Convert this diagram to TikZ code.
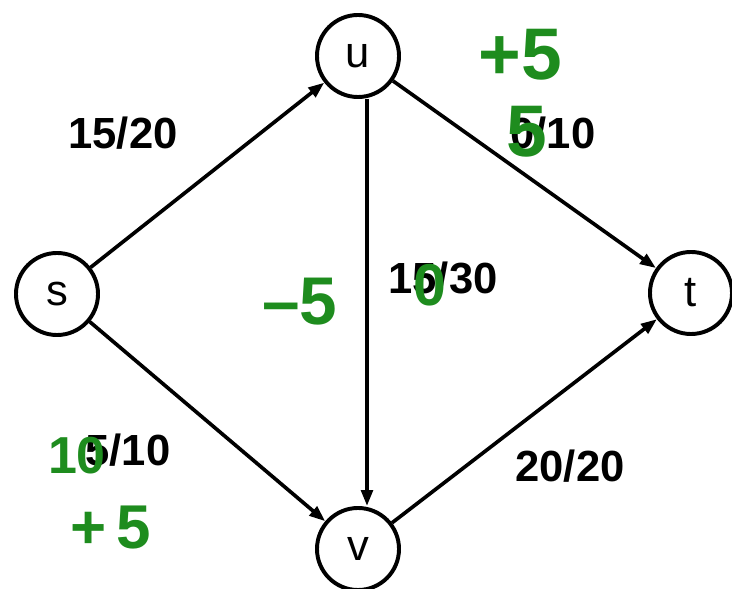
\documentclass[tikz,border=0pt]{standalone}
\usepackage{fontspec}
\setmainfont{Liberation Sans}
\usetikzlibrary{arrows.meta}
\definecolor{inkgreen}{HTML}{1E8C1E}

\begin{document}
\begin{tikzpicture}[x=0.025cm, y=-0.025cm,
  vtx/.style={circle, draw, line width=2.8pt, minimum size=2.05cm,
              inner sep=0pt, font=\fontsize{31}{31}\selectfont},
  lbl/.style={inner sep=0pt, font=\fontsize{31}{31}\selectfont\bfseries},
  pen/.style={text=inkgreen, inner sep=0pt,
              font=\fontsize{#1}{#1}\selectfont\bfseries},
  arr/.style={-{Triangle[length=4mm,width=2.9mm]}, line width=2.6pt},
]
\useasboundingbox (0,0) rectangle (732,589);
% vertices
\node[vtx] (s) at (57,294) {s};
\node[vtx] (u) at (358,56) {u};
\node[vtx] (t) at (691,293) {t};
\node[vtx] (v) at (358,549) {v};
% edges
\draw[arr] (s) -- (u);
\draw[arr] (u) -- (t);
\draw[arr] (s) -- (v);
\draw[arr] (v) -- (t);
\draw[arr] ([shift={(9,0)}]u.south) -- ([shift={(9,0)}]v.north);
% flow / capacity
\node[lbl] (fsu) at (123,133) {15/20};
\node[lbl] (fut) at (553,133) {0/10};
\node[lbl] (fuv) at (443,278) {15/30};
\node[lbl] (fsv) at (128,450) {5/10};
\node[lbl] (fvt) at (570,466) {20/20};
% handwritten corrections
\node[pen=52] (aut) at (520,55) {+5};
\node[pen=52] (nut) at (527,132) {5};
\node[pen=48] (auv) at (300,302) {\textendash5};
\node[pen=42] (nuv) at (430,285) {0};
\node[pen=37] (nsv) at (77,456) {10};
\node[pen=44] (asv) at (111,528) {+\,5};
\end{tikzpicture}
\end{document}
